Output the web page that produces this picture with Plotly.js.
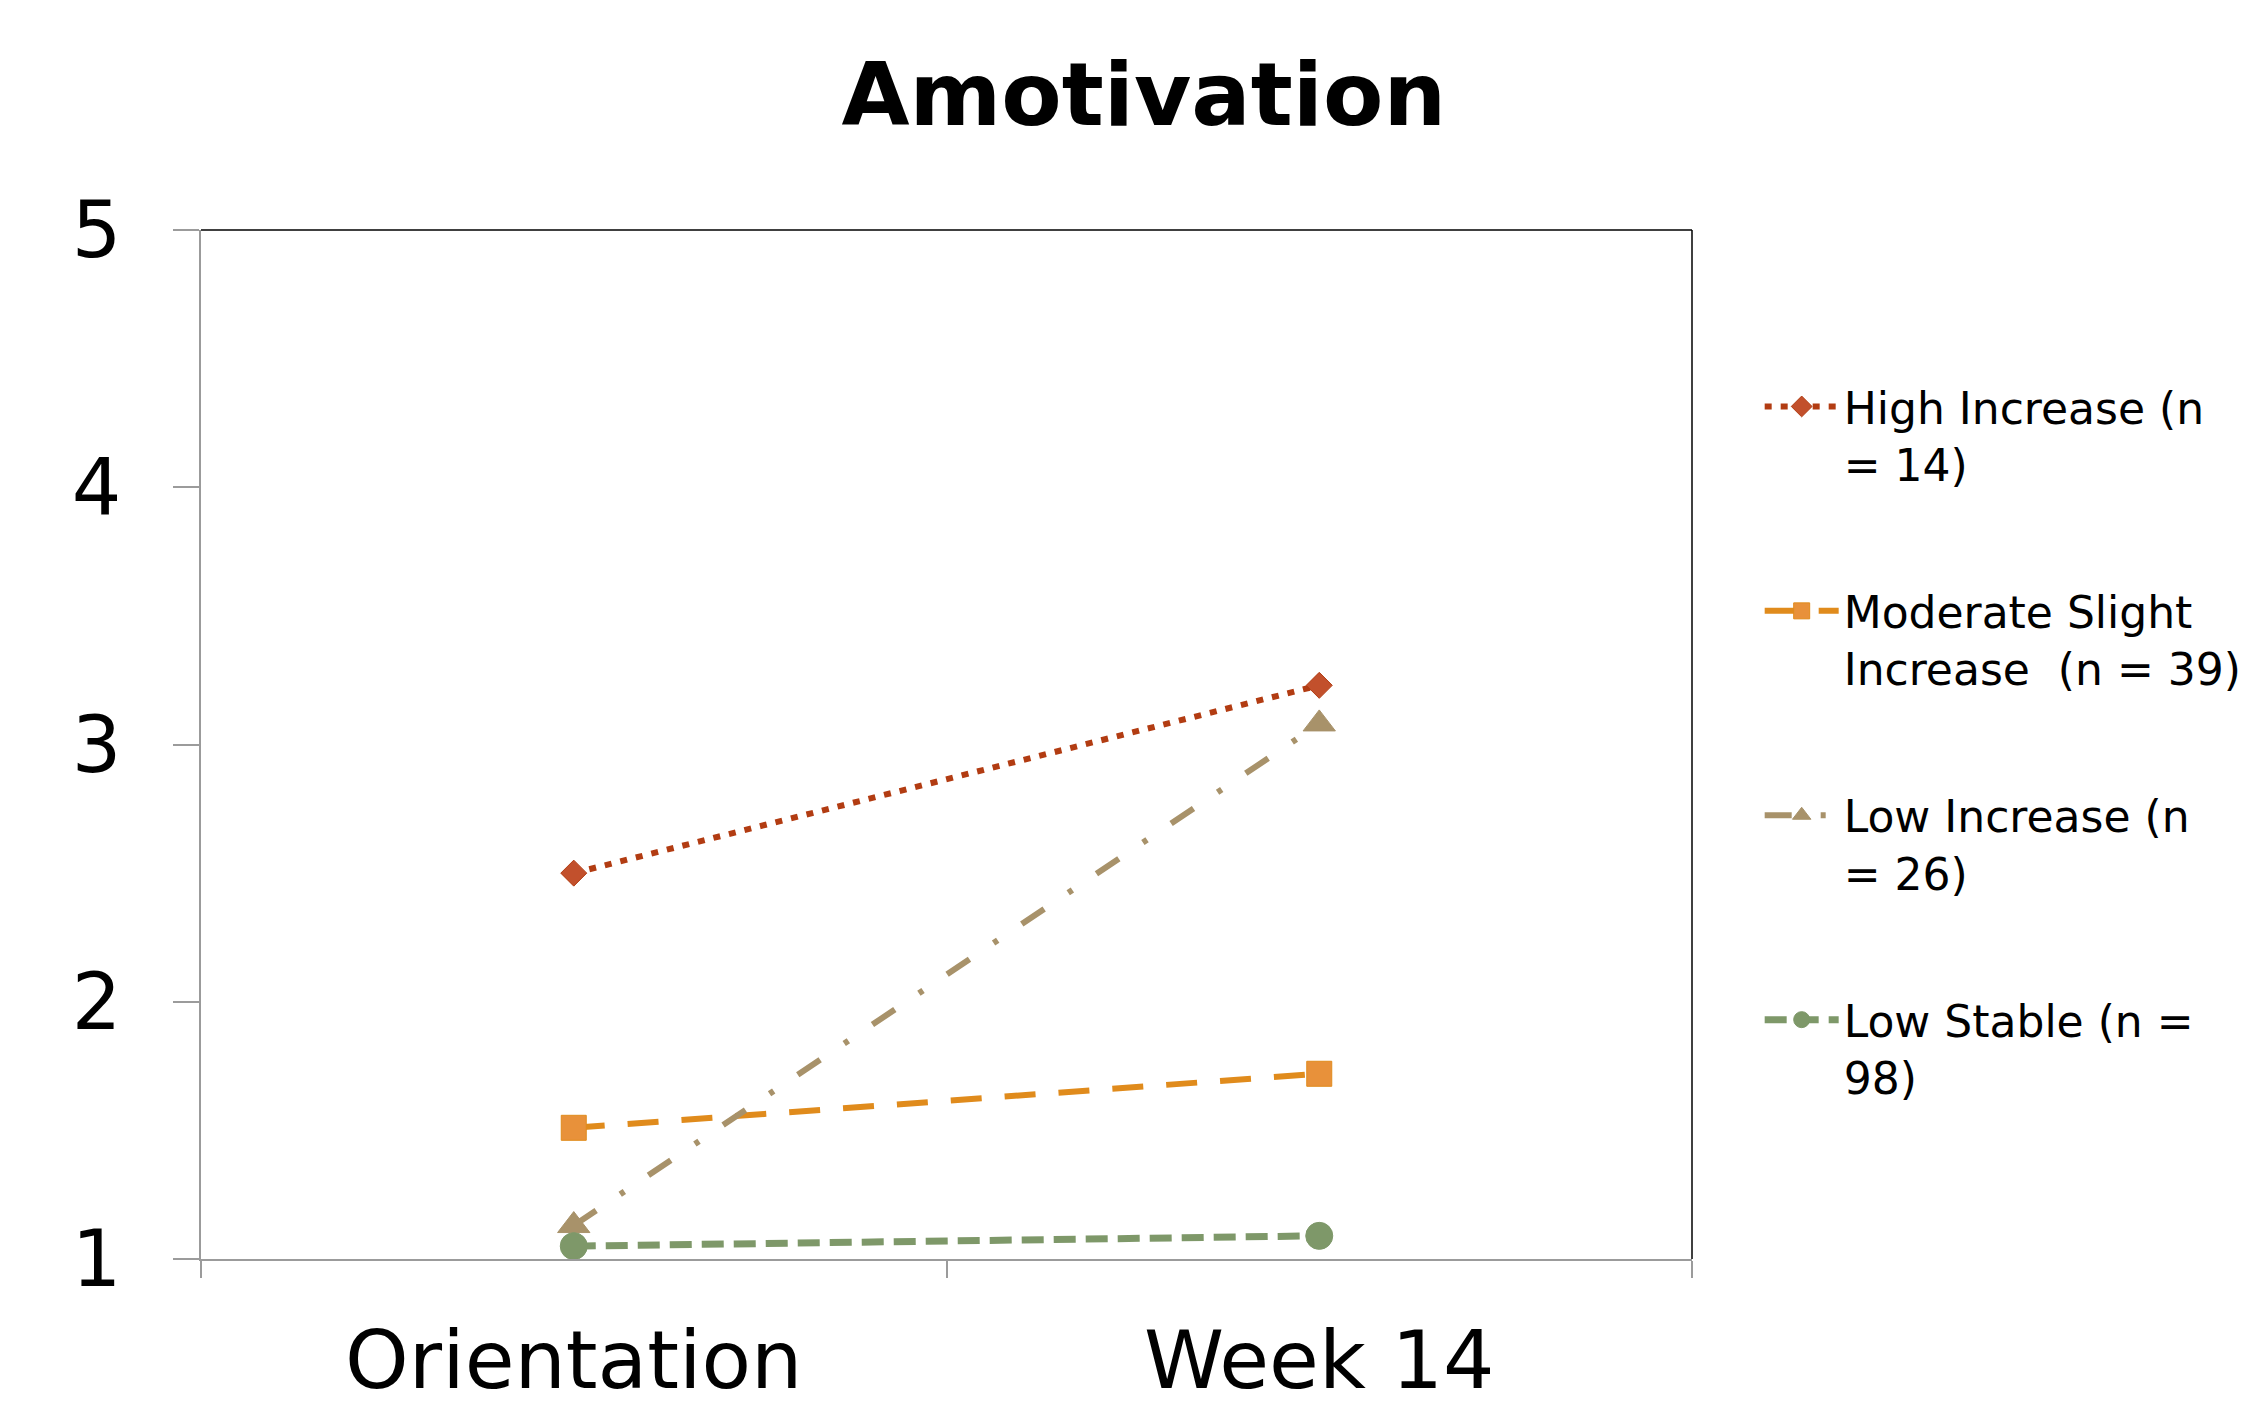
<!DOCTYPE html>
<html>
<head>
<meta charset="utf-8">
<script src="https://cdn.plot.ly/plotly-3.0.1.min.js"></script>
<style>
  html, body { margin: 0; padding: 0; background: #ffffff; }
  #chart { width: 2256px; height: 1412px; }
</style>
</head>
<body>
<div id="chart"></div>
<script>
// Time points
const categories = ['Orientation', 'Week 14'];

// Mean amotivation per trajectory group
const highIncrease = [2.50, 3.23];
const moderateSlightIncrease = [1.51, 1.72];
const lowIncrease = [1.13, 3.08];
const lowStable = [1.05, 1.09];

// Legend labels
const groupNames = [
  'High Increase (n<br>= 14)',
  'Moderate Slight<br>Increase\u00a0 (n = 39)',
  'Low Increase (n<br>= 26)',
  'Low Stable (n =<br>98)'
];

// Y-axis ticks
const yTicks = [1, 2, 3, 4, 5];

const FONT = 'DejaVu Sans, Liberation Sans, sans-serif';

function series(values, name, group, color, markerColor, dash, width, symbol, size) {
  return {
    type: 'scatter',
    mode: 'lines+markers',
    x: categories,
    y: values,
    name: name,
    legendgroup: group,
    line: { color: color, width: width, dash: dash },
    marker: {
      symbol: symbol,
      size: size,
      color: markerColor,
      line: { color: color, width: 1 }
    },
    hoverinfo: 'x+y+name'
  };
}

const traces = [
  series(highIncrease, groupNames[0], 'g1', '#B23C12', '#C2502C', '7px,9px', 6, 'diamond', 20),
  series(moderateSlightIncrease, groupNames[1], 'g2', '#E08B1C', '#E8913A', '31px,23px', 6, 'square', 25),
  series(lowIncrease, groupNames[2], 'g3', '#A8926A', '#A8926A', '27px,29px,5px,29px', 6, 'triangle-up', 28),
  series(lowStable, groupNames[3], 'g4', '#7E9869', '#7E9869', '22px,10px', 7, 'circle', 27)
];

const layout = {
  width: 2256,
  height: 1412,
  paper_bgcolor: '#ffffff',
  plot_bgcolor: '#ffffff',
  margin: { l: 201, r: 564, t: 230, b: 153, pad: 0 },
  font: { family: FONT, color: '#000000' },
  title: {
    text: '<b>Amotivation</b>',
    font: { family: FONT, size: 88, color: '#000000' },
    xref: 'container', yref: 'container',
    x: 0.507, xanchor: 'center',
    y: 0.933, yanchor: 'middle'
  },
  xaxis: {
    type: 'category',
    range: [-0.5, 1.5],
    tickson: 'boundaries',
    ticks: 'outside',
    ticklen: 17,
    tickwidth: 2,
    tickcolor: '#9B9B9B',
    showline: true,
    linecolor: '#9B9B9B',
    linewidth: 2,
    showgrid: false,
    zeroline: false,
    tickfont: { family: FONT, size: 81, color: '#000000' },
    ticklabelstandoff: 30,
    fixedrange: true
  },
  yaxis: {
    range: [1, 5],
    tickvals: yTicks,
    ticktext: yTicks.map(String),
    ticks: 'outside',
    ticklen: 26,
    tickwidth: 2,
    tickcolor: '#9B9B9B',
    showline: true,
    linecolor: '#9B9B9B',
    linewidth: 2,
    showgrid: false,
    zeroline: false,
    tickfont: { family: FONT, size: 78, color: '#000000' },
    ticklabelstandoff: 36,
    fixedrange: true
  },
  shapes: [
    // Top and right frame of the plot area
    { type: 'line', xref: 'paper', yref: 'paper', x0: 0, x1: 1, y0: 1, y1: 1,
      line: { color: '#000000', width: 1.5 } },
    { type: 'line', xref: 'paper', yref: 'paper', x0: 1, x1: 1, y0: 0, y1: 1,
      line: { color: '#000000', width: 1.5 } }
  ],
  showlegend: true,
  legend: {
    xref: 'container', yref: 'container',
    x: 0.780, xanchor: 'left',
    y: 0.737, yanchor: 'top',
    bgcolor: 'rgba(0,0,0,0)',
    borderwidth: 0,
    tracegroupgap: 87,
    itemwidth: 74,
    valign: 'top',
    maxheight: 1400,
    font: { family: FONT, size: 44, color: '#000000' }
  }
};

Plotly.newPlot('chart', traces, layout, { displayModeBar: false, staticPlot: true });
</script>
</body>
</html>
